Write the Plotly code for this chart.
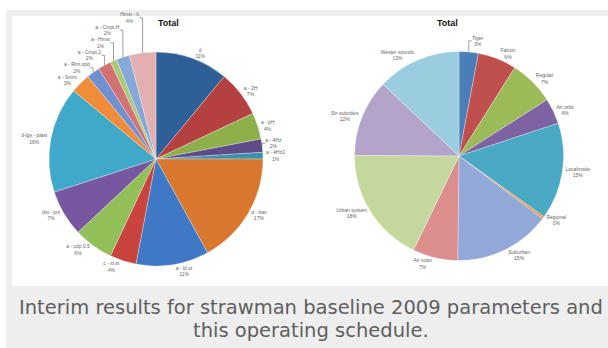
import plotly.graph_objects as go

# Left pie: share of total by source (percent)
left_labels = ["d", "a - 2H", "a - pH", "a - 4Hz", "a - 4Hz2", "d - bas", "a - bl.st",
               "c - sl.st", "a - cdp 0.5", "dst - pnt", "d-lgs - plast", "a - Smrs",
               "a - Rmt.spd", "a - Cmpt.2", "a - Hmst", "a - Cmpt.H", "Hmst - lt"]
left_values = [11, 7, 4, 2, 1, 17, 11, 4, 6, 7, 16, 3, 2, 2, 1, 2, 4]
left_colors = ["#2F5F98", "#B4413F", "#8DB04B", "#5F4B87", "#3A93AA", "#D9772F",
               "#3F78C4", "#C9443F", "#93BF58", "#7758A0", "#40A8C8", "#F08C3A",
               "#7090D0", "#D27272", "#ABCA79", "#86A9D8", "#E2B0B1"]

# Right pie: share of total by operating mode (percent)
right_labels = ["Tiger", "Falcon", "Regular", "Air orbit", "Localmode", "Regional",
                "Suburban", "Air scan", "Urban system", "Str-subcities", "Wester sounds"]
right_values = [3, 6, 7, 4, 15, 0.4, 15, 7, 18, 12, 13]
right_colors = ["#4A7EBB", "#C0504D", "#9BBB59", "#7E62A1", "#4AA9C4", "#F79646",
                "#92A8D8", "#DC8E8C", "#C4D79D", "#B5A4CA", "#9ACDDF"]

label_font = dict(family="Arial", size=5, color="#666666")

fig = go.Figure()

fig.add_trace(go.Pie(
    labels=left_labels, values=left_values, sort=False, direction="clockwise",
    rotation=0, marker=dict(colors=left_colors, line=dict(color="white", width=0.3)),
    textposition="outside", texttemplate="%{label}<br>%{percent:.0%}",
    outsidetextfont=label_font, showlegend=False, hoverinfo="label+percent",
    domain=dict(x=[49 / 608, 263 / 608], y=[1 - 266 / 348, 1 - 52 / 348]),
))

fig.add_trace(go.Pie(
    labels=right_labels, values=right_values, sort=False, direction="clockwise",
    rotation=0, marker=dict(colors=right_colors, line=dict(color="white", width=0.3)),
    textposition="outside", texttemplate="%{label}<br>%{percent:.0%}",
    outsidetextfont=label_font, showlegend=False, hoverinfo="label+percent",
    domain=dict(x=[354.5 / 608, 563.5 / 608], y=[1 - 260.5 / 348, 1 - 51.5 / 348]),
))

W, H = 608, 348


def px_x(v):
    return v / W


def px_y(v):
    return 1 - v / H


shapes = [
    # grey frame around the chart panel and caption area
    dict(type="rect", xref="paper", yref="paper", x0=px_x(6), x1=1, y0=0, y1=px_y(10),
         fillcolor="#EEEEEE", line=dict(width=0), layer="below"),
    dict(type="rect", xref="paper", yref="paper", x0=px_x(12), x1=1, y0=px_y(286), y1=px_y(16),
         fillcolor="white", line=dict(width=0), layer="below"),
]

caption_font = dict(family="DejaVu Sans", size=19.5, color="#5E5E5E")

annotations = [
    dict(text="<b>Total</b>", x=px_x(156), y=px_y(23), xref="paper", yref="paper",
         yanchor="middle", showarrow=False, font=dict(family="Arial", size=9, color="#111111")),
    dict(text="<b>Total</b>", x=px_x(460), y=px_y(23), xref="paper", yref="paper",
         yanchor="middle", showarrow=False, font=dict(family="Arial", size=9, color="#111111")),
    dict(text="Interim results for strawman baseline 2009 parameters and",
         x=px_x(311), y=px_y(307), xref="paper", yref="paper", yanchor="middle",
         showarrow=False, font=caption_font),
    dict(text="this operating schedule.",
         x=px_x(311), y=px_y(330), xref="paper", yref="paper", yanchor="middle",
         showarrow=False, font=caption_font),
]

fig.update_layout(
    width=W, height=H, margin=dict(l=0, r=0, t=0, b=0),
    paper_bgcolor="white", plot_bgcolor="white",
    shapes=shapes, annotations=annotations,
)

fig.write_html("out.html")
